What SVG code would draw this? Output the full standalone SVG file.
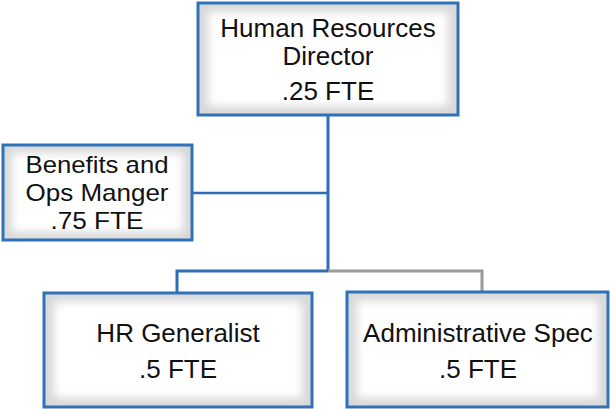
<svg xmlns="http://www.w3.org/2000/svg" width="610" height="409" viewBox="0 0 610 409">
<defs>
<filter id="soft" x="-10%" y="-10%" width="120%" height="120%"><feGaussianBlur stdDeviation="4"/></filter>
<style>
.bg{fill:#d8d8d8}
.in{fill:#ffffff;filter:url(#soft)}
.bd{fill:none;stroke:#2F72B8;stroke-width:3}
.t{font-family:"Liberation Sans",Arial,sans-serif;font-size:26px;fill:#111;text-anchor:middle}
.s{font-size:24px}
.c{fill:none;stroke:#2F6DB8;stroke-width:3}
.g{fill:none;stroke:#9a9a9a;stroke-width:3}
</style>
</defs>
<g id="connectors">
<path class="c" d="M328 115 V271"/>
<path class="c" d="M192 193 H328" style="stroke-width:2.5"/>
<path class="c" d="M177 292 V271 H328"/>
<path class="g" d="M328 271 H482 V292"/>
</g>
<g id="director">
<rect class="bg" x="198" y="3" width="260" height="112"/>
<rect class="in" x="208" y="12" width="240" height="94"/>
<rect class="bd" x="198" y="3" width="260" height="112"/>
<text class="t" x="328" y="37" font-size="26.5">Human Resources</text>
<text class="t" x="328" y="65">Director</text>
<text class="t" x="328" y="100">.25 FTE</text>
</g>
<g id="benefits">
<rect class="bg" x="3" y="145" width="189" height="95"/>
<rect class="in" x="12" y="153" width="171" height="79"/>
<rect class="bd" x="3" y="145" width="189" height="95"/>
<text class="t s" x="97" y="173" textLength="143" lengthAdjust="spacingAndGlyphs">Benefits and</text>
<text class="t s" x="97" y="201" textLength="143" lengthAdjust="spacingAndGlyphs">Ops Manger</text>
<text class="t s" x="97" y="229" textLength="93" lengthAdjust="spacingAndGlyphs">.75 FTE</text>
</g>
<g id="generalist">
<rect class="bg" x="44" y="293" width="268" height="114"/>
<rect class="in" x="54" y="302" width="248" height="96"/>
<rect class="bd" x="44" y="293" width="268" height="114"/>
<text class="t" x="178" y="342">HR Generalist</text>
<text class="t" x="178" y="378">.5 FTE</text>
</g>
<g id="admin">
<rect class="bg" x="347" y="292" width="261" height="115"/>
<rect class="in" x="357" y="301" width="241" height="97"/>
<rect class="bd" x="347" y="292" width="261" height="115"/>
<text class="t" x="478" y="342">Administrative Spec</text>
<text class="t" x="478" y="378">.5 FTE</text>
</g>
</svg>
